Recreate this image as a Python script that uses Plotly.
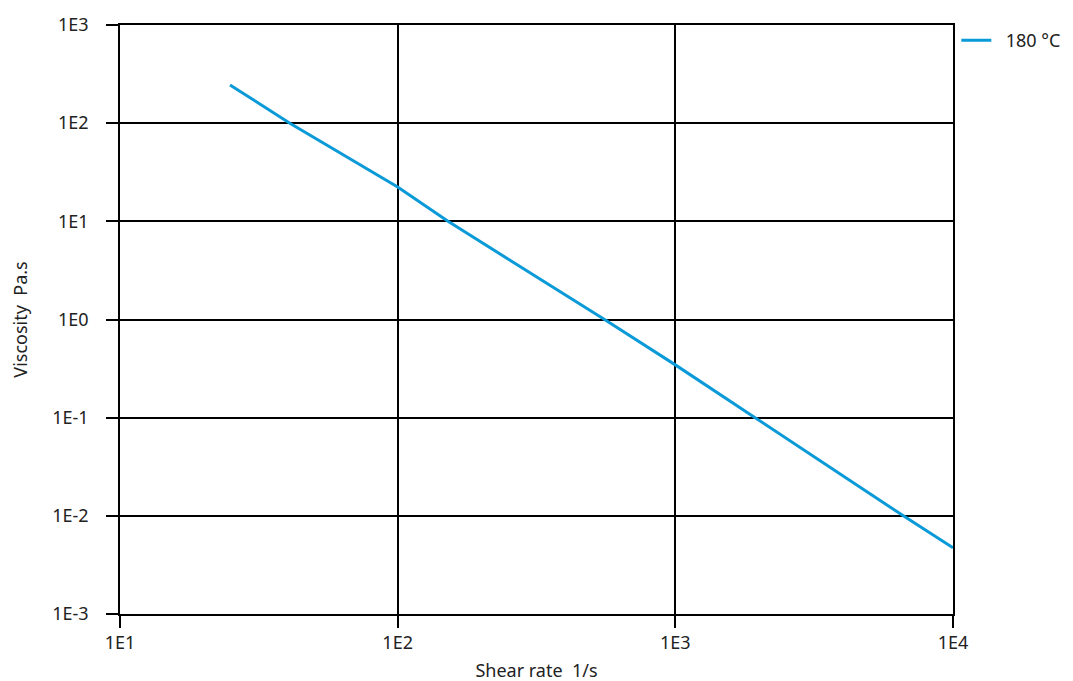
import plotly.graph_objects as go

shear_rate = [24.9, 40.9, 100, 151.8, 556, 1000, 1938, 6623, 10000]
viscosity = [245, 100, 22.4, 10, 1.0, 0.345, 0.1, 0.01, 0.00472]
series_name = "\u00a0\u00a0180 °C"
x_ticks = [10, 100, 1000, 10000]
x_tick_labels = ["1E1", "1E2", "1E3", "1E4"]
y_ticks = [0.001, 0.01, 0.1, 1, 10, 100, 1000]
y_tick_labels = ["1E-3", "1E-2", "1E-1", "1E0", "1E1", "1E2", "1E3"]

font_family = "Noto Sans, Open Sans, sans-serif"
text_color = "#222222"

fig = go.Figure()
fig.add_trace(go.Scatter(
    x=shear_rate, y=viscosity, mode="lines", name=series_name,
    line=dict(color="#0a9ad8", width=3),
))

axis_common = dict(
    type="log",
    showgrid=True, gridcolor="#000000", gridwidth=1.5,
    showline=True, mirror=True, linecolor="#000000", linewidth=1.5,
    zeroline=False,
    ticks="outside", ticklen=12, tickwidth=1.5, tickcolor="#000000",
    tickfont=dict(family=font_family, size=18, color=text_color),
)

fig.update_xaxes(
    **axis_common,
    range=[1, 4], tickvals=x_ticks, ticktext=x_tick_labels,
    title=dict(text="Shear rate  1/s", font=dict(family=font_family, size=18, color=text_color), standoff=11),
)
fig.update_yaxes(
    **axis_common,
    range=[-3, 3], tickvals=y_ticks, ticktext=y_tick_labels,
    ticklabelstandoff=14,
    title=dict(text="Viscosity  Pa.s", font=dict(family=font_family, size=18, color=text_color), standoff=22),
)

fig.update_layout(
    width=1073, height=681,
    margin=dict(l=112, r=128, t=17, b=75, autoexpand=False),
    plot_bgcolor="#ffffff", paper_bgcolor="#ffffff",
    font=dict(family=font_family, size=18, color=text_color),
    showlegend=True,
    legend=dict(x=1.004, xanchor="left", y=1.005, yanchor="top",
                font=dict(family=font_family, size=18, color=text_color),
                bgcolor="rgba(0,0,0,0)"),
)

fig.write_html("out.html")
